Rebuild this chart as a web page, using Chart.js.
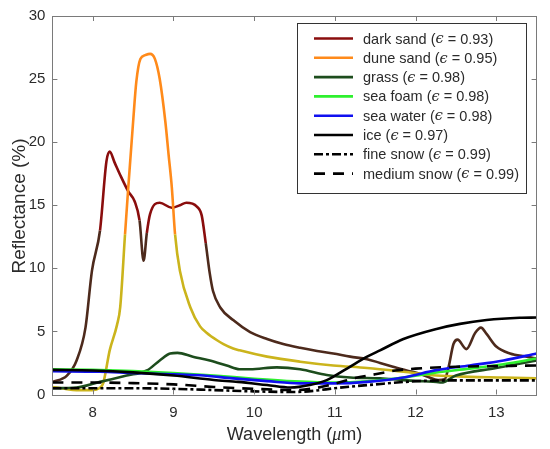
<!DOCTYPE html>
<html>
<head>
<meta charset="utf-8">
<script src="https://cdn.jsdelivr.net/npm/chart.js@4"></script>
<style>
  html, body { margin: 0; padding: 0; background: #fff; }
  #wrap { width: 550px; height: 449px; position: relative; }
</style>
</head>
<body>
<div id="wrap"><canvas id="c" width="550" height="449"></canvas></div>
<script>
// ---- data ----
const xTicks = [8, 9, 10, 11, 12, 13];
const yTicks = [0, 5, 10, 15, 20, 25, 30];

const seriesNames = ['dark sand', 'dune sand', 'grass', 'sea foam', 'sea water', 'ice', 'fine snow', 'medium snow'];
const emissivities = ['0.93', '0.95', '0.98', '0.98', '0.98', '0.97', '0.99', '0.99'];

const darkSandX = [7.5, 7.68, 7.80, 7.91, 7.99, 8.09, 8.17, 8.21, 8.27, 8.34, 8.44, 8.52, 8.58, 8.63, 8.67, 8.71, 8.83, 8.98, 9.08, 9.16, 9.29, 9.35, 9.40, 9.45, 9.49, 9.58, 9.74, 9.95, 10.16, 10.36, 10.57, 10.78, 10.98, 11.19, 11.40, 11.56, 11.72, 11.89, 12.02, 12.15, 12.28, 12.36, 12.41, 12.47, 12.52, 12.63, 12.74, 12.81, 12.88, 13.0, 13.17, 13.38, 13.5];
const darkSandY = [1.0, 1.5, 2.7, 5.3, 9.8, 13.0, 18.5, 19.25, 18.4, 17.4, 16.1, 15.3, 13.8, 10.6, 12.8, 14.3, 15.2, 14.8, 15.0, 15.2, 14.9, 14.2, 12.0, 9.6, 8.2, 6.9, 5.9, 4.95, 4.4, 4.0, 3.7, 3.45, 3.25, 3.0, 2.8, 2.5, 2.2, 1.9, 1.7, 1.4, 1.15, 1.2, 2.2, 4.0, 4.35, 3.6, 4.9, 5.3, 4.8, 3.8, 3.25, 3.0, 2.85];

const duneSandX = [7.5, 7.65, 7.8, 8.0, 8.08, 8.13, 8.21, 8.30, 8.34, 8.40, 8.44, 8.50, 8.54, 8.59, 8.65, 8.71, 8.77, 8.83, 8.90, 8.94, 8.98, 9.02, 9.08, 9.21, 9.33, 9.41, 9.54, 9.62, 9.74, 9.82, 10.16, 10.57, 10.98, 11.40, 11.85, 12.26, 12.67, 13.09, 13.5];
const duneSandY = [0.6, 0.45, 0.35, 0.35, 0.5, 0.9, 3.5, 5.5, 6.9, 12.7, 16.4, 21.6, 24.8, 26.6, 26.9, 27.0, 26.6, 25.0, 21.6, 19.0, 16.4, 12.7, 9.8, 6.9, 5.4, 4.9, 4.3, 4.0, 3.65, 3.5, 3.0, 2.6, 2.3, 2.1, 1.8, 1.5, 1.4, 1.35, 1.28];

const grassX = [7.5, 7.8, 8.09, 8.42, 8.67, 8.83, 8.96, 9.05, 9.24, 9.45, 9.66, 9.82, 9.95, 10.28, 10.57, 10.90, 11.19, 11.56, 11.85, 12.1, 12.26, 12.32, 12.5, 13.0, 13.5];
const grassY = [0.5, 0.55, 1.0, 1.5, 1.9, 2.7, 3.25, 3.3, 3.0, 2.7, 2.3, 2.0, 2.0, 2.15, 2.0, 1.55, 1.35, 1.28, 1.14, 1.05, 1.0, 0.95, 1.5, 2.1, 2.7];

const seaFoamX = [7.5, 8.0, 8.5, 9.0, 9.5, 10.0, 10.5, 11.0, 11.4, 11.85, 12.26, 12.67, 13.09, 13.5];
const seaFoamY = [2.0, 1.95, 1.85, 1.7, 1.5, 1.25, 1.05, 0.95, 1.05, 1.35, 1.75, 2.05, 2.4, 2.85];

const seaWaterX = [7.5, 8.09, 8.5, 9.0, 9.33, 9.74, 10.16, 10.57, 10.98, 11.40, 11.85, 12.26, 12.67, 13.09, 13.5];
const seaWaterY = [1.85, 1.8, 1.7, 1.6, 1.52, 1.28, 1.06, 0.88, 0.88, 1.0, 1.35, 1.93, 2.3, 2.7, 3.25];

const iceX = [7.5, 8.0, 8.5, 9.0, 9.5, 9.8, 10.16, 10.45, 10.69, 10.90, 11.15, 11.40, 11.56, 11.85, 12.26, 12.55, 12.88, 13.29, 13.5];
const iceY = [1.95, 1.9, 1.75, 1.5, 1.15, 1.0, 0.75, 0.55, 0.75, 1.14, 2.06, 3.0, 3.5, 4.4, 5.2, 5.6, 5.9, 6.08, 6.1];

const fineSnowX = [7.5, 8.0, 8.5, 9.0, 9.5, 10.0, 10.5, 10.75, 11.0, 11.5, 12.0, 12.5, 13.0, 13.5];
const fineSnowY = [0.5, 0.5, 0.5, 0.45, 0.35, 0.25, 0.2, 0.3, 0.5, 0.8, 1.05, 1.12, 1.12, 1.12];

const mediumSnowX = [7.5, 8.0, 8.5, 9.0, 9.5, 10.0, 10.5, 10.75, 11.0, 11.25, 11.5, 11.75, 12.0, 12.5, 13.0, 13.5];
const mediumSnowY = [0.95, 0.95, 0.9, 0.8, 0.6, 0.45, 0.35, 0.5, 0.85, 1.3, 1.6, 1.9, 2.05, 2.2, 2.25, 2.3];

// ---- styling ----
const seriesX = [darkSandX, duneSandX, grassX, seaFoamX, seaWaterX, iceX, fineSnowX, mediumSnowX];
const seriesY = [darkSandY, duneSandY, grassY, seaFoamY, seaWaterY, iceY, fineSnowY, mediumSnowY];
const colors = ['#8a0d0d', '#ff8a1a', '#1d4d1d', '#2ef02e', '#1010f0', '#000000', '#000000', '#000000'];
const lowColors = ['#4d2a1c', '#cbb41c', null, null, null, null, null, null];
const dashes = [[], [], [], [], [], [], [9, 3, 3, 3], [11, 8]];
const HIGH = 12.8;

function toPoints(xs, ys) { return xs.map((x, i) => ({ x: x, y: ys[i] })); }

const datasets = seriesNames.map((name, i) => ({
  label: name,
  data: toPoints(seriesX[i], seriesY[i]),
  borderColor: colors[i],
  borderWidth: 2.6,
  borderDash: dashes[i],
  pointRadius: 0,
  fill: false,
  cubicInterpolationMode: 'monotone',
  order: seriesNames.length - 1 - i,
  segment: lowColors[i] ? {
    borderColor: ctx => ((ctx.p0.parsed.y + ctx.p1.parsed.y) / 2 > HIGH ? colors[i] : lowColors[i])
  } : undefined
}));

const AXIS = '#7a7a7a';
const TXT = '#2b2b2b';
const FONT = "'Liberation Sans', Arial, sans-serif";

const framePlugin = {
  id: 'frame',
  afterDraw(chart) {
    const { ctx, chartArea: a, scales: { x, y } } = chart;
    ctx.save();
    ctx.strokeStyle = AXIS;
    ctx.lineWidth = 1;
    ctx.strokeRect(Math.round(a.left) + 0.5, Math.round(a.top) + 0.5, Math.round(a.right - a.left), Math.round(a.bottom - a.top));
    const L = 5;
    ctx.beginPath();
    xTicks.forEach(v => {
      const px = Math.round(x.getPixelForValue(v)) + 0.5;
      ctx.moveTo(px, a.bottom); ctx.lineTo(px, a.bottom - L);
      ctx.moveTo(px, a.top); ctx.lineTo(px, a.top + L);
    });
    yTicks.forEach(v => {
      const py = Math.round(y.getPixelForValue(v)) + 0.5;
      ctx.moveTo(a.left, py); ctx.lineTo(a.left + L, py);
      ctx.moveTo(a.right, py); ctx.lineTo(a.right - L, py);
    });
    ctx.stroke();

    // axis titles
    ctx.fillStyle = TXT;
    ctx.textBaseline = 'alphabetic';
    const parts = [['Wavelength (', "18px " + FONT], ['\u03bc', "italic 18px 'Liberation Serif', 'DejaVu Serif', serif"], ['m)', "18px " + FONT]];
    let total = 0;
    parts.forEach(p => { ctx.font = p[1]; total += ctx.measureText(p[0]).width; });
    let sx = (a.left + a.right) / 2 - total / 2;
    parts.forEach(p => { ctx.font = p[1]; ctx.textAlign = 'left'; ctx.fillText(p[0], sx, 440); sx += ctx.measureText(p[0]).width; });

    ctx.save();
    ctx.translate(25, 206);
    ctx.rotate(-Math.PI / 2);
    ctx.font = "19px " + FONT;
    ctx.textAlign = 'center';
    ctx.fillText('Reflectance (%)', 0, 0);
    ctx.restore();

    // legend
    const bx = 297.5, by = 23.5, bw = 229, bh = 170;
    ctx.fillStyle = '#fff';
    ctx.fillRect(bx, by, bw, bh);
    ctx.strokeStyle = '#333';
    ctx.lineWidth = 1;
    ctx.strokeRect(bx, by, bw, bh);
    seriesNames.forEach((name, i) => {
      const ry = 38.5 + i * 19.3;
      ctx.beginPath();
      ctx.setLineDash(dashes[i]);
      ctx.strokeStyle = colors[i];
      ctx.lineWidth = 2.6;
      ctx.moveTo(314, ry); ctx.lineTo(353, ry);
      ctx.stroke();
      ctx.setLineDash([]);
      ctx.fillStyle = TXT;
      ctx.textBaseline = 'middle';
      ctx.textAlign = 'left';
      const segs = [[name + ' (', "14.5px " + FONT], ['\u03f5', "italic 14.5px 'DejaVu Serif', serif"], [' = ' + emissivities[i] + ')', "14.5px " + FONT]];
      let tx = 363;
      segs.forEach(s => { ctx.font = s[1]; ctx.fillText(s[0], tx, ry + 1); tx += ctx.measureText(s[0]).width; });
    });
    ctx.restore();
  }
};

new Chart(document.getElementById('c'), {
  type: 'line',
  data: { datasets: datasets },
  options: {
    responsive: false,
    animation: false,
    events: [],
    layout: { padding: { top: 13, right: 13.4, left: 0, bottom: 0 } },
    plugins: { legend: { display: false }, tooltip: { enabled: false } },
    scales: {
      x: {
        type: 'linear', min: 7.5, max: 13.5,
        afterBuildTicks: s => { s.ticks = xTicks.map(v => ({ value: v })); },
        afterFit: s => { s.height = 54.5; },
        grid: { display: false, drawTicks: false, tickLength: 0 }, border: { display: false },
        ticks: { padding: 9, color: TXT, font: { family: FONT, size: 15 }, maxRotation: 0, autoSkip: false }
      },
      y: {
        type: 'linear', min: 0, max: 30,
        afterBuildTicks: s => { s.ticks = yTicks.map(v => ({ value: v })); },
        afterFit: s => { s.width = 52.4; },
        grid: { display: false, drawTicks: false, tickLength: 0 }, border: { display: false },
        ticks: { padding: 7, color: TXT, font: { family: FONT, size: 15 }, autoSkip: false }
      }
    }
  },
  plugins: [framePlugin]
});
</script>
</body>
</html>
